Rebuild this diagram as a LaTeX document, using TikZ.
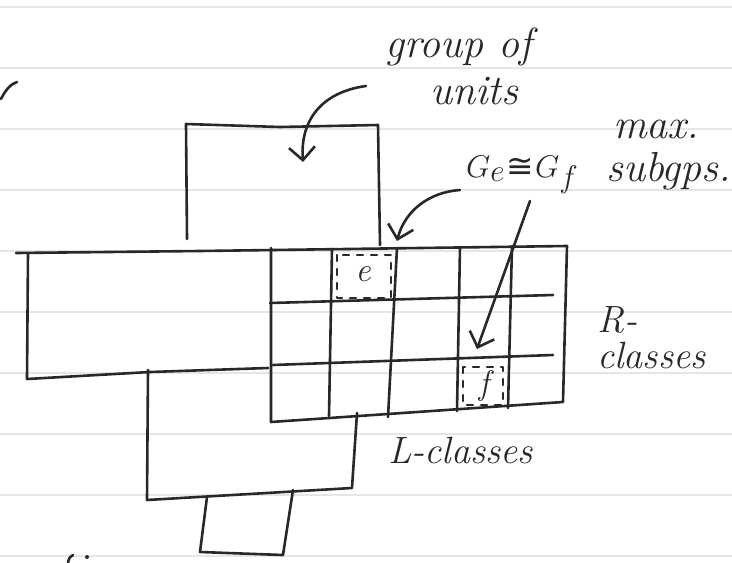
\documentclass[tikz,border=0pt]{standalone}
\usepackage{fontspec}
\newfontfamily\symfnt{DejaVu Sans}
\usetikzlibrary{arrows.meta}
\definecolor{inkc}{RGB}{40,40,40}
\definecolor{rulec}{RGB}{226,229,236}
\begin{document}
\begin{tikzpicture}[x=1pt,y=-1pt, line cap=round, line join=round,
  ink/.style={line width=2.6pt, draw=inkc},
  rule/.style={line width=1.3pt, draw=rulec},
  hatch/.style={line width=2.2pt, draw=inkc, dash pattern=on 6pt off 8pt},
  lbl/.style={font=\fontsize{42}{44}\selectfont\itshape, text=inkc, inner sep=0pt},
  lbls/.style={font=\fontsize{38}{40}\selectfont\itshape, text=inkc, inner sep=0pt},
  cell/.style={font=\fontsize{34}{36}\selectfont\itshape, text=inkc, inner sep=0pt},
  arr/.style={ink, -{Straight Barb[length=13pt,width=26pt]}}]
\useasboundingbox (0,0) rectangle (732,563);
\fill[white] (0,0) rectangle (732,563);
% ruled paper
\foreach \y in {7,68,129,190,251,312,373,434,495,556} \draw[rule] (0,\y) -- (732,\y);

% top box (group of units)
\draw[ink] (187,239) -- (186,124) -- (280,127) -- (378,125) -- (380,245);
% main horizontal line
\draw[ink] (16,253) -- (200,251) -- (567,246);
% left box
\draw[ink] (28,253) -- (27,379) -- (150,372) -- (268,368);
% grid (D-class)
\draw[ink] (271,248) -- (271,422) -- (563,402) -- (567,246);
\draw[ink] (332,249) -- (329,416);
\draw[ink] (397,248) -- (388,417);
\draw[ink] (460,247) -- (457,411);
\draw[ink] (512,246) -- (508,408);
\draw[ink] (270,303) -- (553,295);
\draw[ink] (273,365) -- (553,355);
% middle box
\draw[ink] (148,370) -- (147,500) -- (352,488) -- (357,413);
% bottom small box
\draw[ink] (207,497) -- (200,552) -- (283,555) -- (293,490);

% shaded H-classes
\draw[hatch] (337,255) rectangle (391,298);
\draw[hatch] (463,367) rectangle (503,405);
\node[cell] (ecell) at (363,274) {e};
\node[cell] (fcell) at (484,386) {f};

% labels
\node[lbl, anchor=base west] (gu1) at (385,57) {group of};
\node[lbl, anchor=base west] (gu2) at (430,104) {units};
\node[lbl, anchor=base west] (maxa) at (613,138) {max.};
\node[lbl, anchor=base west] (ge) at (466,177) {\scalebox{1.26}{$G_e$\kern1pt{\upshape\symfnt\fontsize{26}{28}\selectfont ≅}\kern1pt$G_f$}};
\node[lbl, anchor=base west] (subg) at (606,181) {subgps.};
\node[lbls, anchor=base west] (r1) at (597,332) {R-};
\node[lbls, anchor=base west] (r2) at (597,368) {classes};
\node[lbls, anchor=base west] (lcl) at (388,463) {L-classes};

% arrows
\coordinate (a1s) at (366,86);
\coordinate (a1e) at (303,162);
\draw[arr] (a1s) .. controls (322,92) and (300,120) .. (a1e);
\coordinate (a2s) at (460,190);
\coordinate (a2e) at (397,241);
\draw[arr] (a2s) .. controls (430,192) and (405,210) .. (a2e);
\coordinate (a3s) at (530,201);
\coordinate (a3e) at (477,349);
\draw[arr] (a3s) -- (a3e);

% stray fragments at the page edge
\draw[ink] (1,99) .. controls (6,89) and (11,84) .. (17,82);
\draw[ink] (73,555) .. controls (69,558) .. (68,563);
\fill[inkc] (87,557) circle (2pt);
\end{tikzpicture}
\end{document}
